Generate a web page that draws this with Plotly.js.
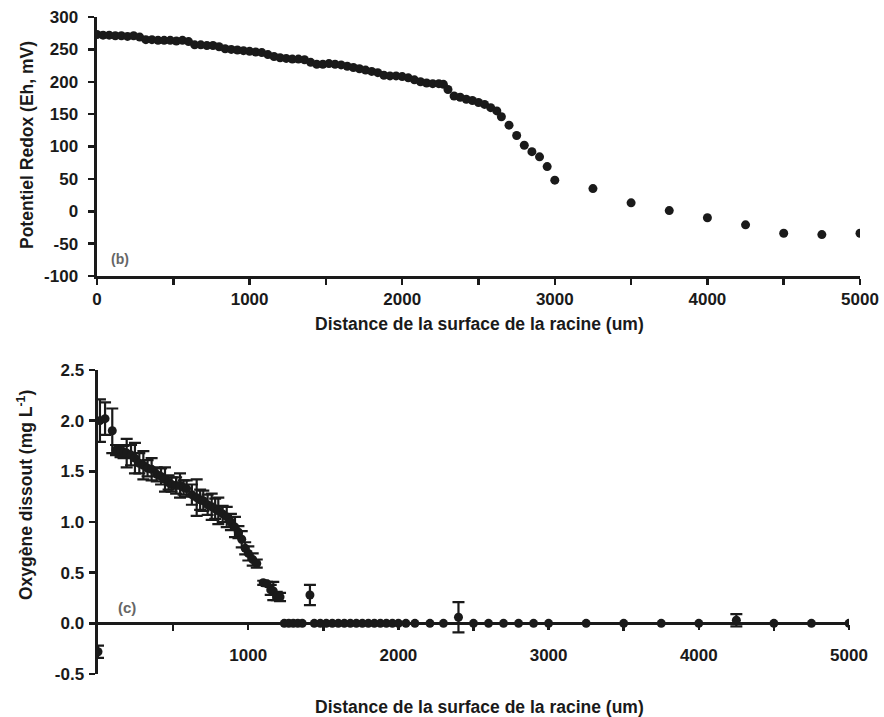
<!DOCTYPE html>
<html>
<head>
<meta charset="utf-8">
<script src="https://cdn.plot.ly/plotly-3.0.1.min.js"></script>
<style>html,body{margin:0;padding:0;background:#fff;}#chart{width:884px;height:717px;}</style>
</head>
<body>
<div id="chart"></div>
<script>
// ---- Panel (b): redox potential ----
var redoxDist = [0,40,80,120,160,200,240,280,320,360,400,440,480,520,560,600,640,680,720,760,800,840,880,920,960,1000,1040,1080,1120,1160,1200,1240,1280,1320,1360,1400,1440,1480,1520,1560,1600,1640,1680,1720,1760,1800,1840,1880,1920,1960,2000,2040,2080,2120,2160,2200,2240,2270,
  2300,2340,2380,2420,2460,2500,2540,2580,2620,2650,2700,2750,2800,2850,2900,2950,3000,3250,3500,3750,4000,4250,4500,4750,5000];
var redoxEh = [273,272,272,271,271,270,271,269,265,265,264,264,264,263,264,262,257,257,256,256,254,251,250,249,248,247,246,245,242,239,237,236,235,235,234,230,227,227,228,227,226,224,222,220,218,216,214,210,209,209,208,206,203,200,198,197,197,196,
  188,178,176,173,171,168,165,160,155,146,133,117,102,92,84,69,48,35,13,1,-10,-21,-34,-36,-34];

// ---- Panel (c): dissolved oxygen ----
var oxyDist = [0,13,47,95,120,150,170,191,220,246,275,302,330,357,391,420,446,470,490,520,546,570,590,625,657,680,701,730,757,780,801,830,857,885,912,935,957,980,1001,1030,1057,1100,1125,1150,1167,1190,1212,1411,
  1240,1270,1300,1330,1360,1440,1480,1520,1560,1600,1640,1680,1720,1760,1800,1840,1880,1920,1960,2000,2050,2110,2210,2300,2400,2500,2600,2700,2800,2900,3000,3250,3500,3750,4000,4250,4500,4750,5000];
var oxyVal = [-0.28,2.00,2.02,1.90,1.71,1.70,1.69,1.68,1.66,1.63,1.58,1.56,1.53,1.52,1.47,1.45,1.42,1.39,1.37,1.36,1.36,1.34,1.33,1.27,1.24,1.22,1.21,1.17,1.15,1.13,1.11,1.08,1.05,1.00,0.95,0.90,0.83,0.74,0.69,0.63,0.59,0.40,0.39,0.33,0.32,0.27,0.26,0.28,
  0,0,0,0,0,0,0,0,0,0,0,0,0,0,0,0,0,0,0,0,0,0,0,0,0.06,0,0,0,0,0,0,0,0,0,0,0.03,0,0,0];
var oxyErr = [0.06,0.21,0.16,0.22,0.05,0.06,0.06,0.14,0.10,0.15,0.10,0.14,0.08,0.11,0.07,0.08,0.12,0.07,0.07,0.08,0.12,0.07,0.08,0.10,0.18,0.10,0.10,0.10,0.13,0.10,0.13,0.08,0.10,0.08,0.10,0.06,0.08,0.06,0.07,0.06,0.04,0.02,0.02,0.05,0.09,0.04,0.04,0.10,
  0,0,0,0,0,0,0,0,0,0,0,0,0,0,0,0,0,0,0,0,0,0,0,0,0.15,0,0,0,0,0,0,0,0,0,0,0.06,0,0,0];

// ---- Tick labels ----
var distTickValsB = [0,1000,2000,3000,4000,5000];
var distTickTextB = ['0','1000','2000','3000','4000','5000'];
var distTickValsC = [1000,2000,3000,4000,5000];
var distTickTextC = ['1000','2000','3000','4000','5000'];
var distMinorVals = [500,1500,2500,3500,4500];
var ehTickVals = [-100,-50,0,50,100,150,200,250,300];
var ehTickText = ['-100','-50','0','50','100','150','200','250','300'];
var oxyTickVals = [-0.5,0,0.5,1,1.5,2,2.5];
var oxyTickText = ['-0.5','0.0','0.5','1.0','1.5','2.0','2.5'];

var xTitle = 'Distance de la surface de la racine (um)';
var yTitleB = 'Potentiel Redox (Eh, mV)';
var yTitleC = 'Oxygène dissout (mg L<sup>-1</sup>)';

var INK = '#1a1a1a';
var FAM = 'Liberation Sans, Arial, sans-serif';

var traces = [
  {x: redoxDist, y: redoxEh, type: 'scatter', mode: 'markers', xaxis: 'x', yaxis: 'y',
   marker: {color: INK, size: 9, symbol: 'circle'}, hoverinfo: 'x+y'},
  {x: oxyDist, y: oxyVal, type: 'scatter', mode: 'markers', xaxis: 'x2', yaxis: 'y2',
   marker: {color: INK, size: 9, symbol: 'circle'},
   error_y: {type: 'data', array: oxyErr, visible: true, color: INK, thickness: 2.2, width: 6}}
];

var tickFont = {family: FAM, size: 17, color: INK, weight: 'bold'};
var titleFont = {family: FAM, size: 17.5, color: INK, weight: 'bold'};
var minorTicks = {tickvals: distMinorVals, ticks: 'outside', ticklen: 6, tickwidth: 2.5, tickcolor: INK, showgrid: false};

var layout = {
  width: 884, height: 717,
  margin: {l: 0, r: 0, t: 0, b: 0},
  paper_bgcolor: '#ffffff', plot_bgcolor: '#ffffff',
  showlegend: false,
  font: tickFont,
  xaxis: {
    domain: [0.10973, 0.97285], range: [0, 5000], anchor: 'y',
    tickmode: 'array', tickvals: distTickValsB, ticktext: distTickTextB,
    ticks: 'outside', ticklen: 6, tickwidth: 2.5, tickcolor: INK,
    minor: minorTicks,
    showline: true, linewidth: 3, linecolor: INK, showgrid: false, zeroline: false,
    tickfont: tickFont, ticklabelstandoff: 0
  },
  yaxis: {
    domain: [0.61506, 0.97629], range: [-100, 300], anchor: 'x',
    tickmode: 'array', tickvals: ehTickVals, ticktext: ehTickText,
    ticks: 'outside', ticklen: 6, tickwidth: 2.5, tickcolor: INK,
    showline: true, linewidth: 3.5, linecolor: INK, showgrid: false, zeroline: false,
    tickfont: tickFont, ticklabelstandoff: 6
  },
  xaxis2: {
    domain: [0.11086, 0.96041], range: [0, 5000], anchor: 'free', position: 0.13110,
    tickmode: 'array', tickvals: distTickValsC, ticktext: distTickTextC,
    ticks: 'outside', ticklen: 5, tickwidth: 2.5, tickcolor: INK,
    minor: minorTicks,
    showline: true, linewidth: 3, linecolor: INK, showgrid: false, zeroline: false,
    tickfont: tickFont, ticklabelstandoff: 11
  },
  yaxis2: {
    domain: [0.05997, 0.48396], range: [-0.5, 2.5], anchor: 'x2',
    tickmode: 'array', tickvals: oxyTickVals, ticktext: oxyTickText,
    ticks: 'outside', ticklen: 6, tickwidth: 2.5, tickcolor: INK,
    showline: true, linewidth: 3.5, linecolor: INK, showgrid: false, zeroline: false,
    tickfont: tickFont, ticklabelstandoff: 1
  },
  annotations: [
    {text: xTitle, xref: 'paper', yref: 'paper', x: 480/884, y: (717-324)/717,
     xanchor: 'center', yanchor: 'middle', showarrow: false, font: titleFont},
    {text: xTitle, xref: 'paper', yref: 'paper', x: 480/884, y: (717-707)/717,
     xanchor: 'center', yanchor: 'middle', showarrow: false, font: titleFont},
    {text: yTitleB, xref: 'paper', yref: 'paper', x: 27/884, y: (717-145)/717, textangle: -90,
     xanchor: 'center', yanchor: 'middle', showarrow: false, font: titleFont},
    {text: yTitleC, xref: 'paper', yref: 'paper', x: 25/884, y: (717-495)/717, textangle: -90,
     xanchor: 'center', yanchor: 'middle', showarrow: false, font: titleFont},
    {text: '(b)', xref: 'x', yref: 'y', x: 150, y: -73, showarrow: false,
     font: {family: FAM, size: 14, color: '#666', weight: 'bold'}},
    {text: '(c)', xref: 'x2', yref: 'y2', x: 190, y: 0.16, showarrow: false,
     font: {family: FAM, size: 15, color: '#666', weight: 'bold'}}
  ]
};

Plotly.newPlot('chart', traces, layout, {displayModeBar: false, staticPlot: true});
</script>
</body>
</html>
